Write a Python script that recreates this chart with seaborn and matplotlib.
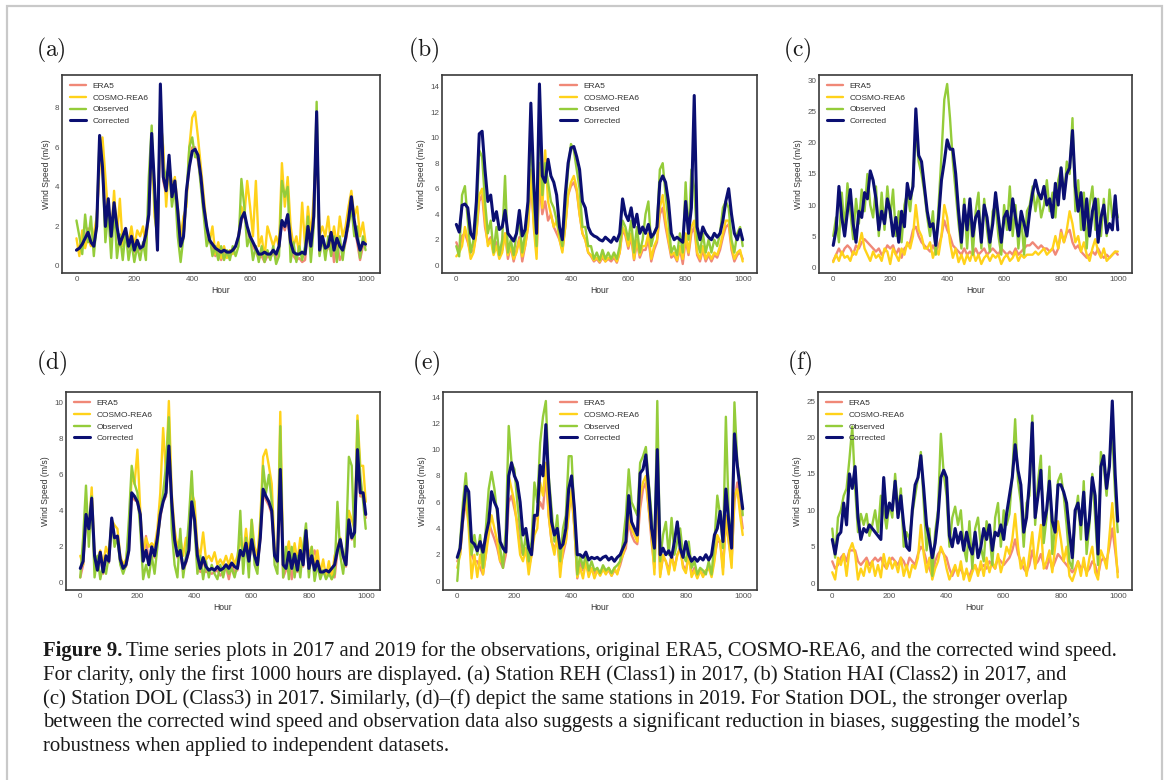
import matplotlib
matplotlib.use('Agg')
import matplotlib.pyplot as plt
from matplotlib.patches import Rectangle
import seaborn as sns

# Hours sampled along the first 1000 h
hours = list(range(0, 1000, 10)) + [999]

# ---- (a) REH 2017 ----
era5_a = [0.8, 1.0, 1.3, 1.5, 1.9, 1.1, 1.0, 2.0, 5.5, 5.3,
          2.0, 3.0, 1.4, 3.0, 1.8, 1.0, 1.3, 1.8, 0.9, 1.8,
          0.7, 1.2, 0.8, 0.9, 1.5, 2.5, 6.2, 3.8, 0.8, 8.0,
          4.3, 3.6, 5.2, 3.3, 4.0, 2.6, 1.0, 1.4, 3.5, 5.0,
          6.0, 6.0, 5.3, 4.3, 2.8, 1.8, 1.2, 1.0, 0.5, 0.7,
          0.3, 0.7, 0.5, 0.6, 0.7, 1.0, 1.4, 2.3, 2.6, 1.9,
          1.3, 1.0, 0.7, 0.4, 0.5, 0.2, 0.5, 0.4, 0.7, 0.4,
          0.9, 2.2, 1.8, 2.4, 1.0, 0.5, 0.3, 0.4, 0.2, 0.3,
          1.8, 0.9, 2.3, 7.0, 0.6, 1.3, 0.7, 0.9, 1.5, 0.2,
          1.2, 0.3, 0.6, 1.2, 2.1, 3.2, 2.1, 1.2, 0.3, 1.0,
          1.0]
cosmo_a = [1.4, 0.5, 1.8, 0.9, 1.5, 1.0, 1.6, 2.5, 5.0, 6.5,
           4.5, 2.5, 1.5, 3.8, 1.5, 3.4, 1.0, 1.8, 1.2, 2.0,
           1.0, 1.8, 1.5, 2.0, 1.0, 3.0, 6.0, 2.5, 1.5, 7.5,
           6.0, 3.0, 5.2, 4.0, 4.5, 3.0, 1.5, 2.5, 3.0, 6.0,
           7.5, 7.8, 6.5, 5.0, 3.5, 2.0, 1.2, 2.0, 0.6, 1.2,
           0.4, 1.0, 0.4, 0.8, 0.6, 1.0, 1.5, 3.0, 2.5, 4.3,
           3.0, 1.5, 4.3, 1.0, 1.5, 0.4, 2.0, 1.5, 1.0, 1.5,
           1.0, 5.2, 3.0, 4.5, 2.0, 1.0, 1.5, 0.6, 3.2, 1.0,
           3.0, 1.5, 3.5, 6.5, 1.5, 2.0, 1.5, 2.5, 1.0, 2.0,
           1.0, 2.5, 1.5, 2.0, 3.0, 3.8, 2.5, 3.0, 1.5, 2.2,
           1.2]
obs_a = [2.3, 1.5, 0.6, 2.6, 1.2, 2.5, 0.5, 2.2, 6.5, 5.0,
         1.2, 2.8, 0.4, 3.0, 0.4, 1.6, 0.3, 1.8, 0.3, 1.2,
         0.2, 1.0, 0.3, 1.2, 0.3, 4.5, 7.1, 3.0, 1.0, 8.5,
         5.0, 4.5, 5.0, 3.0, 4.0, 1.5, 0.2, 1.5, 3.5, 6.0,
         6.5, 5.5, 5.5, 4.0, 2.5, 1.0, 1.5, 0.5, 1.0, 0.3,
         1.0, 0.3, 0.8, 0.3, 1.0, 0.5, 1.0, 4.4, 3.0, 1.0,
         1.5, 0.3, 1.0, 0.2, 1.0, 0.2, 0.8, 0.3, 1.0, 0.1,
         0.5, 4.3, 3.5, 4.0, 0.2, 1.2, 0.2, 1.0, 0.3, 1.0,
         2.5, 0.2, 2.0, 8.3, 0.5, 1.5, 0.3, 1.5, 0.5, 1.5,
         0.2, 1.5, 0.3, 1.5, 2.0, 3.0, 1.5, 2.0, 0.4, 1.5,
         0.8]
corr_a = [0.8, 0.9, 1.1, 1.4, 1.7, 1.2, 1.0, 2.0, 6.6, 5.0,
          2.0, 3.4, 1.5, 3.2, 2.0, 1.1, 1.5, 1.9, 1.0, 1.5,
          0.8, 1.3, 0.9, 1.0, 1.6, 2.6, 6.7, 4.0, 0.8, 9.2,
          4.5, 3.8, 5.6, 3.5, 4.3, 2.8, 1.0, 1.5, 3.8, 5.0,
          5.8, 5.9, 5.6, 4.5, 3.0, 2.0, 1.3, 1.1, 0.9, 0.8,
          0.7, 0.8, 0.7, 0.7, 0.8, 1.0, 1.5, 2.4, 2.7, 2.0,
          1.5, 1.2, 0.9, 0.6, 0.6, 0.7, 0.6, 0.6, 0.8, 0.6,
          1.0, 2.3, 2.0, 2.6, 1.2, 0.7, 0.6, 0.6, 0.7, 0.6,
          2.0, 1.0, 2.5, 7.8, 0.8, 1.5, 0.9, 1.0, 1.7, 0.8,
          1.4, 1.0, 0.8, 1.4, 2.3, 3.5, 2.3, 1.4, 0.8, 1.2,
          1.1]

# ---- (b) HAI 2017 ----
era5_b = [1.8, 1.2, 2.3, 2.5, 1.8, 1.0, 1.2, 2.5, 5.0, 5.5,
          3.0, 1.8, 2.2, 1.0, 1.8, 0.7, 1.2, 2.5, 0.5, 1.5,
          0.3, 1.2, 2.2, 0.3, 1.5, 3.0, 6.5, 3.5, 1.0, 6.5,
          4.0, 5.0, 3.5, 4.0, 3.0, 2.5, 2.0, 1.2, 3.0, 5.5,
          6.2, 6.5, 5.8, 4.0, 2.5, 2.0, 1.0, 0.7, 0.3, 0.5,
          0.2, 0.6, 0.3, 0.5, 0.3, 0.6, 0.2, 1.0, 2.8, 2.3,
          1.3, 2.2, 0.4, 1.8, 0.6, 1.2, 1.2, 2.0, 0.3, 1.2,
          1.8, 4.0, 4.5, 3.0, 1.8, 0.6, 0.8, 0.3, 1.3, 0.1,
          2.0, 0.8, 2.5, 3.0, 0.8, 0.3, 1.2, 0.3, 0.8, 0.3,
          0.8, 0.6, 1.2, 2.2, 3.0, 3.2, 1.2, 0.3, 0.8, 1.0,
          0.5]
cosmo_b = [0.7, 1.0, 1.5, 3.0, 2.0, 0.5, 1.0, 2.5, 5.5, 6.0,
           3.5, 1.5, 2.0, 0.8, 1.5, 0.5, 1.0, 2.5, 0.8, 1.5,
           0.5, 1.0, 2.0, 0.7, 1.5, 3.0, 7.5, 3.0, 0.5, 8.0,
           4.5, 9.0, 5.0, 4.0, 3.0, 3.5, 2.0, 1.0, 3.0, 5.5,
           6.5, 7.0, 6.0, 4.0, 2.5, 2.0, 1.0, 0.8, 0.4, 0.6,
           0.3, 0.8, 0.3, 0.6, 0.5, 0.8, 0.3, 1.0, 3.0, 2.5,
           1.5, 2.5, 0.5, 2.0, 0.8, 1.5, 1.5, 2.5, 0.5, 1.5,
           2.0, 4.5, 5.5, 3.5, 2.0, 0.8, 1.0, 0.4, 1.5, 0.5,
           2.5, 1.0, 3.0, 3.5, 1.0, 0.5, 1.5, 0.5, 1.0, 0.5,
           1.0, 0.8, 1.5, 2.5, 3.5, 3.5, 1.5, 0.5, 1.0, 1.2,
           0.3]
obs_b = [1.5, 0.7, 5.5, 6.2, 3.5, 1.0, 2.0, 3.5, 9.0, 8.5,
         5.0, 2.5, 3.5, 1.0, 3.0, 0.8, 2.0, 7.0, 1.0, 2.0,
         0.8, 2.5, 3.5, 1.0, 2.5, 4.5, 10.5, 5.0, 1.5, 12.5,
         5.5, 8.0, 6.5, 5.0, 4.5, 3.5, 2.5, 1.5, 4.5, 7.5,
         9.5, 9.0, 7.5, 6.0, 3.0, 3.0, 1.5, 1.5, 0.5, 1.0,
         0.4, 1.2, 0.5, 1.0, 0.5, 1.0, 0.5, 1.5, 3.5, 3.0,
         2.0, 3.5, 1.0, 3.0, 1.0, 2.0, 4.0, 5.0, 1.5, 2.5,
         3.0, 7.5, 8.0, 5.5, 3.5, 1.0, 1.5, 0.8, 2.5, 1.0,
         6.5, 2.0, 7.5, 6.0, 2.0, 1.0, 2.5, 1.0, 2.0, 1.0,
         2.0, 1.5, 2.5, 4.5, 5.0, 4.5, 2.0, 1.0, 2.5, 3.0,
         1.5]
corr_b = [3.2, 2.6, 4.7, 4.8, 4.5, 2.5, 2.1, 5.0, 10.3, 10.5,
          7.5, 5.0, 5.5, 3.5, 4.2, 2.8, 3.0, 4.3, 2.5, 2.2,
          1.9, 2.5, 4.3, 2.3, 2.8, 5.0, 12.7, 6.5, 2.5, 14.2,
          7.0, 6.5, 8.3, 7.0, 6.5, 5.5, 3.0, 2.0, 5.5, 8.0,
          9.2, 9.3, 8.5, 7.5, 5.0, 4.5, 3.0, 2.5, 2.3, 2.2,
          2.0, 1.9, 2.2, 2.0, 1.8, 2.2, 1.9, 2.5, 5.2, 4.0,
          3.5, 4.5, 3.0, 4.0, 2.5, 3.0, 2.5, 3.2, 2.2, 2.5,
          3.0, 6.5, 7.0, 6.5, 5.0, 2.5, 2.0, 2.2, 2.0, 1.8,
          5.0, 2.5, 4.5, 13.3, 3.0, 2.0, 3.0, 2.5, 2.2, 2.0,
          2.5, 2.2, 2.5, 3.5, 5.0, 6.0, 4.0, 2.5, 2.0, 2.8,
          2.0]

# ---- (c) DOL 2017 ----
era5_c = [1.0, 2.0, 3.0, 2.0, 3.0, 3.5, 3.0, 2.0, 3.5, 3.0,
          4.0, 4.5, 4.0, 3.5, 3.0, 2.5, 3.0, 2.0, 2.5, 3.5,
          3.0, 3.5, 2.0, 3.0, 1.5, 3.0, 3.5, 4.0, 6.0, 6.5,
          5.0, 4.0, 3.5, 3.0, 2.5, 3.5, 2.5, 3.5, 5.0, 7.5,
          6.0, 5.0, 3.5, 3.0, 2.5, 2.0, 3.0, 2.0, 2.5, 2.0,
          3.0, 2.0, 2.5, 3.0, 2.0, 2.5, 3.0, 2.5, 2.0, 3.0,
          2.5, 2.0, 2.5, 2.0, 3.0, 2.0, 2.5, 3.0, 3.5, 3.5,
          4.0, 3.5, 3.0, 3.5, 3.0, 3.0, 2.5, 3.0, 2.0, 3.0,
          6.0, 4.0, 5.5, 6.0, 4.0, 3.0, 3.5, 2.5, 2.0, 1.5,
          2.0, 2.5, 2.0, 3.0, 2.0, 1.5, 2.0, 1.5, 2.0, 2.5,
          2.0]
cosmo_c = [0.8, 2.0, 1.0, 2.5, 1.5, 1.8, 1.0, 2.5, 2.0, 3.5,
           5.5, 3.0, 2.0, 1.0, 2.5, 1.5, 2.0, 1.0, 3.0, 2.5,
           0.5, 3.0, 2.0, 1.0, 3.0, 2.0, 4.0, 3.0, 5.0, 10.0,
           6.0, 5.0, 3.0, 3.0, 4.0, 1.5, 3.0, 2.0, 5.0, 10.0,
           8.0, 4.0, 1.5, 3.0, 0.8, 2.0, 0.5, 2.0, 1.0, 2.5,
           1.0, 2.0, 0.5, 1.5, 2.0, 1.0, 2.0, 1.5, 2.0, 0.5,
           1.5, 2.0, 1.0, 1.5, 2.5, 1.0, 2.0, 1.5, 2.0, 2.0,
           2.0, 2.5, 2.0, 2.5, 3.0, 2.0, 2.5, 3.0, 5.0, 3.0,
           5.5, 4.0, 6.0, 9.0, 7.0, 4.0, 5.0, 2.5, 4.0, 2.0,
           1.0, 3.0, 4.5, 2.5, 1.5, 3.0, 1.0, 1.5, 2.0, 2.5,
           2.5]
obs_c = [5.0, 8.0, 4.0, 12.0, 6.0, 13.5, 9.0, 4.5, 11.0, 7.0,
         12.5, 9.0, 15.0, 10.0, 8.0, 13.0, 5.0, 12.0, 6.0, 13.0,
         8.0, 12.5, 5.0, 9.0, 4.0, 10.0, 12.0, 9.0, 14.0, 22.0,
         17.0, 15.0, 12.0, 8.0, 5.0, 9.0, 2.0, 10.0, 18.0, 27.0,
         29.5, 24.0, 17.0, 12.0, 7.0, 3.0, 11.0, 3.0, 10.0, 2.0,
         9.0, 12.0, 3.0, 11.0, 6.0, 2.5, 9.0, 10.0, 5.0, 2.0,
         10.0, 6.0, 13.0, 5.0, 10.0, 3.0, 8.0, 2.0, 9.0, 10.0,
         13.0, 9.0, 12.0, 8.0, 10.0, 14.0, 9.0, 12.0, 8.0, 14.0,
         16.0, 11.0, 17.0, 15.0, 24.0, 9.0, 14.0, 6.0, 12.0, 3.0,
         10.0, 13.0, 6.0, 11.0, 5.0, 11.0, 5.0, 12.5, 8.0, 10.0,
         8.0]
corr_c = [3.5, 6.0, 13.0, 8.0, 5.0, 9.0, 12.5, 7.0, 4.0, 9.0,
          8.0, 12.0, 11.0, 15.5, 14.0, 11.0, 6.0, 9.0, 7.0, 11.0,
          9.0, 5.0, 8.0, 4.0, 9.0, 6.5, 13.5, 11.0, 13.0, 25.5,
          18.0, 17.0, 13.0, 9.0, 6.5, 7.0, 3.5, 8.0, 14.0, 17.0,
          20.5, 19.0, 19.0, 15.0, 9.0, 4.0, 10.0, 6.0, 11.0, 5.0,
          8.0, 9.0, 4.0, 10.0, 8.0, 4.0, 7.0, 12.0, 8.0, 4.0,
          8.0, 9.0, 6.0, 11.0, 8.0, 5.0, 9.0, 7.0, 5.0, 9.0,
          12.0, 14.0, 12.0, 11.0, 13.0, 10.0, 11.0, 8.0, 13.5, 10.0,
          16.0, 11.0, 15.0, 16.0, 22.0, 13.0, 9.0, 12.0, 6.0, 11.0,
          5.0, 9.0, 11.0, 4.0, 8.0, 10.0, 5.5, 7.0, 6.0, 11.5,
          6.0]

# ---- (d) REH 2019 ----
era5_d = [0.3, 1.0, 3.5, 2.8, 4.5, 1.2, 0.7, 1.5, 0.5, 1.4,
          1.1, 3.2, 2.3, 2.5, 1.2, 0.7, 0.9, 1.8, 4.8, 4.6,
          4.5, 3.6, 1.2, 2.6, 1.0, 2.0, 1.4, 2.4, 3.6, 4.5,
          4.8, 7.2, 4.3, 2.3, 1.4, 1.7, 0.6, 1.1, 1.7, 4.3,
          3.3, 1.4, 0.6, 1.3, 0.6, 0.6, 0.5, 0.6, 0.7, 0.4,
          0.6, 0.9, 0.2, 1.0, 0.6, 0.7, 1.7, 1.4, 2.1, 1.1,
          2.3, 1.4, 0.9, 2.4, 5.0, 4.6, 4.3, 3.8, 1.4, 1.1,
          6.0, 0.3, 0.7, 1.6, 0.2, 1.5, 0.6, 1.7, 0.9, 2.8,
          0.6, 1.4, 1.8, 1.1, 0.5, 0.5, 0.6, 0.5, 0.7, 0.3,
          1.7, 2.3, 1.4, 0.9, 3.3, 2.4, 2.7, 7.0, 4.8, 4.8,
          3.6]
cosmo_d = [1.5, 1.0, 4.0, 3.0, 5.3, 1.5, 1.3, 1.8, 1.0, 2.0,
           1.5, 3.5, 3.2, 3.0, 1.5, 1.0, 1.3, 2.5, 6.0, 5.5,
           7.4, 4.0, 1.5, 2.5, 2.0, 2.2, 2.0, 3.0, 5.0, 8.6,
           6.0, 10.1, 5.0, 3.0, 2.0, 2.5, 1.5, 2.5, 2.5, 5.0,
           4.5, 2.0, 1.5, 2.8, 1.3, 1.5, 1.2, 1.7, 1.0, 1.3,
           1.0, 1.5, 1.0, 1.6, 1.0, 1.5, 2.5, 1.5, 3.0, 1.5,
           3.5, 2.0, 1.5, 3.5, 7.0, 7.4, 6.5, 5.5, 2.0, 1.5,
           9.5, 1.5, 1.5, 2.3, 1.0, 2.2, 1.2, 2.5, 1.5, 3.0,
           1.5, 2.0, 1.0, 1.8, 0.5, 1.3, 0.3, 1.2, 0.2, 1.5,
           2.0, 2.5, 1.5, 1.5, 4.0, 3.5, 3.0, 9.3, 6.5, 6.5,
           4.5]
obs_d = [0.3, 2.5, 5.4, 2.0, 4.8, 0.3, 1.5, 0.2, 1.0, 0.5,
         1.5, 3.5, 2.0, 2.5, 1.0, 0.5, 1.0, 3.5, 6.5, 5.5,
         5.0, 3.0, 0.2, 1.0, 0.3, 1.5, 0.5, 2.0, 4.0, 5.0,
         6.5, 9.2, 3.0, 1.0, 0.3, 3.0, 0.3, 1.5, 3.5, 6.2,
         3.0, 0.5, 1.5, 0.2, 1.2, 0.3, 1.0, 0.5, 0.2, 1.0,
         0.3, 1.0, 0.5, 0.8, 0.3, 1.0, 4.0, 0.5, 2.5, 0.3,
         3.5, 1.0, 0.5, 3.0, 6.5, 5.0, 6.0, 4.5, 1.0, 0.5,
         8.7, 0.3, 2.0, 0.2, 2.0, 0.3, 1.5, 0.3, 2.0, 3.3,
         0.3, 2.0, 0.1, 1.0, 0.2, 0.7, 0.2, 0.5, 0.2, 0.5,
         4.5, 1.5, 0.5, 2.0, 7.0, 6.5, 2.0, 9.0, 6.0, 4.5,
         3.0]
corr_d = [0.8, 1.2, 3.8, 3.0, 4.7, 1.5, 0.7, 1.7, 0.6, 1.5,
          1.2, 3.6, 2.5, 2.6, 1.3, 0.8, 1.0, 1.8, 5.0, 4.8,
          4.5, 3.8, 1.2, 1.8, 1.0, 2.0, 1.5, 2.5, 3.8, 4.5,
          5.0, 7.6, 4.5, 2.4, 1.5, 1.8, 0.8, 1.2, 1.8, 4.5,
          3.5, 1.5, 0.8, 1.4, 0.9, 0.7, 0.8, 0.7, 0.9, 0.7,
          0.8, 1.0, 0.8, 1.1, 0.9, 0.8, 1.8, 1.5, 2.2, 1.2,
          2.4, 1.5, 1.0, 2.5, 5.2, 4.8, 4.5, 4.0, 1.5, 1.2,
          6.3, 1.0, 0.8, 1.7, 0.8, 1.6, 0.7, 1.8, 1.0, 2.9,
          0.8, 1.5, 0.7, 1.2, 0.6, 0.6, 0.7, 0.6, 0.8, 1.0,
          1.8, 2.4, 1.5, 1.0, 3.5, 2.5, 2.8, 7.4, 5.0, 5.0,
          3.8]

# ---- (e) HAI 2019 ----
era5_e = [1.5, 2.0, 4.5, 6.0, 4.5, 2.0, 1.5, 1.5, 1.0, 0.5,
          2.0, 4.5, 3.8, 3.2, 2.5, 1.5, 1.0, 2.0, 6.0, 6.5,
          5.5, 4.5, 2.5, 2.0, 2.5, 1.0, 2.0, 4.5, 5.0, 6.0,
          5.5, 8.0, 5.0, 3.0, 2.5, 3.0, 1.0, 2.0, 3.0, 5.5,
          6.5, 4.0, 0.2, 1.5, 0.8, 1.5, 0.5, 1.0, 0.6, 0.8,
          0.5, 1.0, 0.6, 0.8, 0.4, 0.8, 0.6, 1.2, 2.0, 2.5,
          4.5, 3.5, 3.0, 2.8, 5.5, 7.0, 7.5, 5.5, 3.0, 1.0,
          7.5, 0.5, 1.8, 1.5, 0.8, 2.0, 1.0, 2.0, 2.5, 1.2,
          0.8, 2.0, 0.5, 1.0, 0.3, 0.8, 0.5, 0.8, 1.0, 0.5,
          1.8, 3.0, 3.0, 1.0, 4.5, 3.0, 1.5, 6.0, 7.5, 5.5,
          4.0]
cosmo_e = [1.0, 2.0, 5.0, 6.5, 4.0, 0.2, 2.0, 0.3, 2.0, 0.5,
           2.0, 3.5, 5.0, 4.0, 3.0, 1.5, 1.5, 2.5, 8.0, 7.0,
           6.0, 4.0, 2.0, 1.5, 2.5, 0.5, 2.0, 3.5, 4.0, 7.5,
           6.5, 9.0, 5.0, 3.0, 2.0, 3.5, 0.3, 2.5, 3.0, 5.0,
           7.0, 4.0, 0.3, 1.0, 0.2, 1.5, 0.3, 1.0, 0.2, 0.8,
           0.4, 0.9, 0.5, 1.0, 0.4, 1.0, 0.5, 1.5, 2.0, 3.0,
           5.0, 4.0, 3.5, 3.0, 6.5, 7.5, 8.0, 5.5, 3.5, 0.5,
           8.0, 0.3, 2.0, 1.5, 0.5, 2.0, 0.8, 2.0, 2.5, 1.0,
           0.6, 2.0, 0.3, 0.8, 0.2, 0.8, 0.3, 0.8, 1.0, 0.3,
           1.5, 3.5, 3.0, 0.5, 5.0, 3.0, 1.0, 6.5, 7.0, 5.0,
           3.5]
obs_e = [0.0, 3.0, 6.0, 8.2, 5.0, 2.0, 3.5, 2.0, 3.5, 1.0,
         4.0, 7.0, 8.3, 7.0, 5.0, 2.5, 1.0, 4.0, 11.8, 9.0,
         8.5, 6.0, 4.0, 2.0, 3.5, 1.5, 3.0, 7.5, 6.0, 10.5,
         12.5, 13.7, 8.0, 5.5, 3.0, 5.0, 1.5, 4.0, 5.0, 9.5,
         9.5, 5.0, 0.5, 2.0, 1.0, 2.0, 0.8, 1.5, 0.8, 1.0,
         0.6, 1.2, 0.8, 1.0, 0.6, 1.0, 1.2, 1.5, 3.0, 5.0,
         8.5, 6.0, 5.5, 5.0, 9.0, 9.5, 10.2, 7.5, 5.0, 1.5,
         13.7, 1.5, 3.5, 4.5, 2.0, 4.8, 2.0, 3.0, 4.0, 2.0,
         1.5, 3.0, 1.0, 1.5, 0.5, 1.0, 0.8, 0.5, 1.5, 0.5,
         3.0, 6.5, 5.0, 2.5, 12.5, 5.0, 3.0, 13.6, 9.0, 7.5,
         5.0]
corr_e = [1.8, 2.5, 5.0, 7.2, 6.8, 3.0, 2.8, 2.3, 3.0, 2.2,
          3.5, 4.5, 6.8, 6.0, 5.5, 3.0, 2.5, 2.2, 8.0, 9.0,
          8.0, 7.5, 6.0, 3.5, 4.0, 2.5, 2.0, 5.0, 5.0, 8.8,
          8.0, 11.9, 7.5, 4.5, 3.5, 4.0, 2.5, 2.8, 4.0, 7.0,
          8.0, 5.5, 2.0, 2.0, 1.8, 2.2, 1.6, 1.8, 1.7, 1.8,
          1.6, 1.8, 1.9, 1.6, 1.8, 1.5, 1.8, 2.0, 2.5, 3.0,
          6.5, 4.5, 4.0, 3.5, 8.2, 8.5, 9.6, 7.0, 4.0, 2.5,
          10.0, 2.0, 2.5, 2.0, 2.3, 1.8, 3.0, 4.5, 2.5, 1.8,
          3.0, 2.0, 1.5, 1.8, 1.5, 1.8, 1.6, 2.0, 1.6, 2.0,
          3.5, 4.0, 5.3, 3.0, 7.0, 4.5, 2.5, 11.2, 8.8, 7.0,
          5.5]

# ---- (f) DOL 2019 ----
era5_f = [3.0, 2.0, 2.5, 3.5, 4.0, 3.0, 4.5, 4.5, 4.5, 3.0,
          2.5, 3.0, 3.5, 2.5, 3.0, 3.5, 3.0, 3.5, 2.5, 2.0,
          3.0, 3.5, 3.0, 2.5, 3.5, 3.0, 2.0, 3.5, 3.0, 2.5,
          4.0, 5.0, 4.5, 3.0, 2.0, 1.0, 3.0, 4.0, 4.5, 4.0,
          3.5, 2.0, 1.0, 2.0, 1.5, 2.0, 1.0, 1.5, 1.0, 2.0,
          2.5, 1.5, 2.0, 2.5, 2.0, 3.0, 2.5, 2.0, 3.5, 3.0,
          2.5, 3.0, 3.5, 4.5, 6.0, 4.0, 3.0, 2.0, 1.5, 2.5,
          4.5, 2.5, 3.0, 4.0, 2.5, 2.0, 3.5, 2.0, 3.0, 4.0,
          3.5, 3.0, 2.5, 2.0, 1.5, 2.0, 3.0, 2.0, 2.5, 1.5,
          2.0, 3.0, 2.5, 1.0, 3.0, 3.5, 3.0, 5.0, 7.5, 4.5,
          1.5]
cosmo_f = [1.5, 0.5, 3.5, 2.5, 4.0, 1.0, 4.5, 5.5, 4.0, 0.5,
           2.0, 1.0, 3.0, 1.5, 3.0, 1.0, 2.5, 0.8, 4.0, 2.0,
           3.5, 2.0, 3.0, 1.5, 3.5, 1.0, 2.5, 0.8, 2.5, 2.0,
           3.5, 8.0, 4.0, 1.5, 3.5, 0.5, 2.0, 3.0, 5.0, 4.0,
           2.0, 0.5, 1.5, 2.5, 1.0, 3.0, 0.5, 2.0, 0.3, 1.5,
           2.5, 1.0, 3.0, 1.0, 3.5, 1.5, 3.0, 2.0, 4.0, 1.5,
           3.0, 5.0, 4.0, 6.0, 9.5, 5.0, 2.0, 3.5, 1.0, 4.0,
           7.0, 2.0, 5.0, 8.0, 2.0, 3.0, 4.5, 1.5, 5.0, 8.5,
           6.0, 3.0, 5.0, 1.0, 0.3, 1.5, 3.0, 1.0, 3.5, 1.0,
           3.5, 5.0, 1.5, 0.5, 4.5, 3.5, 2.0, 6.5, 11.0, 6.0,
           0.8]
obs_f = [7.5, 3.5, 9.0, 10.0, 12.0, 13.0, 17.0, 21.5, 13.0, 7.0,
         9.5, 8.0, 9.5, 6.5, 8.0, 10.0, 7.0, 12.0, 10.0, 7.5,
         11.0, 9.0, 15.0, 10.0, 13.0, 5.0, 7.0, 6.0, 9.5, 12.0,
         14.5, 18.0, 11.0, 4.5, 7.5, 1.0, 7.0, 10.0, 20.5, 15.0,
         12.0, 5.0, 9.0, 10.5, 8.0, 10.0, 5.0, 3.0, 8.5, 2.0,
         7.5, 9.0, 5.0, 3.0, 8.5, 7.0, 2.5, 9.0, 11.0, 5.0,
         10.0, 8.0, 9.5, 15.0, 22.5, 14.0, 11.0, 5.0, 11.0, 12.0,
         23.0, 8.0, 14.0, 17.5, 5.5, 9.0, 16.0, 4.0, 8.0, 14.0,
         15.0, 12.0, 8.0, 3.0, 2.0, 9.0, 12.0, 6.0, 14.0, 4.0,
         8.0, 15.0, 9.0, 2.5, 18.0, 16.0, 12.0, 17.0, 20.5, 12.0,
         7.0]
corr_f = [6.0, 4.0, 6.5, 7.0, 11.0, 8.0, 15.0, 13.0, 16.0, 9.0,
          6.0, 7.5, 7.0, 8.0, 7.5, 7.0, 6.5, 6.0, 14.5, 9.0,
          11.0, 10.0, 14.0, 9.0, 12.0, 8.0, 5.0, 4.5, 10.0, 13.5,
          14.5, 17.5, 13.0, 8.0, 6.0, 3.5, 5.5, 9.0, 14.5, 15.5,
          14.5, 6.5, 5.0, 7.5, 5.5, 7.0, 4.5, 7.0, 5.0, 4.0,
          7.0, 3.5, 5.0, 7.5, 6.0, 8.0, 4.5, 7.0, 6.5, 8.0,
          6.0, 9.5, 12.0, 14.5, 19.0, 15.5, 13.5, 7.0, 9.0, 14.0,
          22.0, 9.0, 12.0, 15.5, 8.0, 10.0, 14.0, 8.5, 7.0, 13.5,
          13.5, 12.5, 11.0, 7.0, 3.5, 10.0, 11.0, 8.0, 12.5, 6.0,
          9.0, 14.5, 12.0, 4.0, 16.0, 17.5, 13.0, 16.0, 25.0, 15.0,
          8.5]

series_names = ['ERA5', 'COSMO-REA6', 'Observed', 'Corrected']
series_colors = ['#f08877', '#ffd21a', '#94cc3a', '#0b0f72']
panel_tags = ['(a)', '(b)', '(c)', '(d)', '(e)', '(f)']

caption_lines = [
    'Time series plots in 2017 and 2019 for the observations, original ERA5, COSMO-REA6, and the corrected wind speed.',
    'For clarity, only the first 1000 hours are displayed. (a) Station REH (Class1) in 2017, (b) Station HAI (Class2) in 2017, and',
    '(c) Station DOL (Class3) in 2017. Similarly, (d)\u2013(f) depict the same stations in 2019. For Station DOL, the stronger overlap',
    'between the corrected wind speed and observation data also suggests a significant reduction in biases, suggesting the model\u2019s',
    'robustness when applied to independent datasets.',
]

panels = [
    (era5_a, cosmo_a, obs_a, corr_a),
    (era5_b, cosmo_b, obs_b, corr_b),
    (era5_c, cosmo_c, obs_c, corr_c),
    (era5_d, cosmo_d, obs_d, corr_d),
    (era5_e, cosmo_e, obs_e, corr_e),
    (era5_f, cosmo_f, obs_f, corr_f),
]

sns.set_style('white')
plt.rcParams['font.family'] = ['Liberation Sans', 'DejaVu Sans']
plt.rcParams['mathtext.fontset'] = 'cm'

W, H = 1167, 780
fig = plt.figure(figsize=(W / 100, H / 100), dpi=100)
fig.patch.set_facecolor('white')

# light grey page frame
fig.add_artist(Rectangle((7 / W, -0.05), 1155 / W, 1.05 - 6 / H, transform=fig.transFigure,
                         fill=False, edgecolor='#c9c9c9', lw=1.6, clip_on=False))

# axes boxes in pixels: left, top, right, bottom
boxes = [(62, 75, 380, 273), (442, 75, 757, 273), (819, 75, 1132, 273),
         (66, 392, 380, 590), (443, 392, 757, 590), (818, 392, 1132, 590)]
tag_pos = [(36, 50), (408, 50), (783, 50), (36, 363), (412, 363), (787, 363)]
legend_loc = ['upper left', 'upper center', 'upper left', 'upper left', 'upper center', 'upper left']

for i, (data, box) in enumerate(zip(panels, boxes)):
    l, t, r, b = box
    ax = fig.add_axes([l / W, 1 - b / H, (r - l) / W, (b - t) / H])
    for vals, name, col in zip(data, series_names, series_colors):
        lw = 2.2 if name == 'Corrected' else 1.7
        sns.lineplot(x=hours, y=vals, ax=ax, color=col, lw=lw, label=name)
    ax.set_xticks([0, 200, 400, 600, 800, 1000])
    ax.set_xlabel('Hour', fontsize=6.2, color='#333333', labelpad=2)
    ax.set_ylabel('Wind Speed (m/s)', fontsize=6.2, color='#333333', labelpad=3)
    ax.tick_params(labelsize=5.8, labelcolor='#505050', pad=2, length=0)
    for sp in ax.spines.values():
        sp.set_color('#3a3a3a')
        sp.set_linewidth(1.2)
    leg = ax.legend(loc=legend_loc[i], frameon=False, fontsize=6.0, handlelength=2.0,
                    labelspacing=0.45, borderaxespad=0.5)
    for txt in leg.get_texts():
        txt.set_color('#333333')
    tx, ty = tag_pos[i]
    fig.text(tx / W, 1 - ty / H, r'$\mathrm{' + panel_tags[i] + '}$', fontsize=17,
             va='center', ha='left', color='#1a1a1a')

# caption
cap_font = 'Liberation Serif'
cap_size = 14.95
y0 = 651
dy = 23.8
bold = fig.text(43 / W, 1 - y0 / H, 'Figure 9.', family=cap_font, fontsize=cap_size,
                weight='bold', va='center', ha='left', color='#1a1a1a')
fig.canvas.draw()
bb = bold.get_window_extent()
fig.text((bb.x1 + 4) / W, 1 - y0 / H, caption_lines[0], family=cap_font, fontsize=cap_size,
         va='center', ha='left', color='#1a1a1a')
for k, line in enumerate(caption_lines[1:], start=1):
    fig.text(43 / W, 1 - (y0 + k * dy) / H, line, family=cap_font, fontsize=cap_size,
             va='center', ha='left', color='#1a1a1a')

fig.savefig('out.png', dpi=100, facecolor='white')
